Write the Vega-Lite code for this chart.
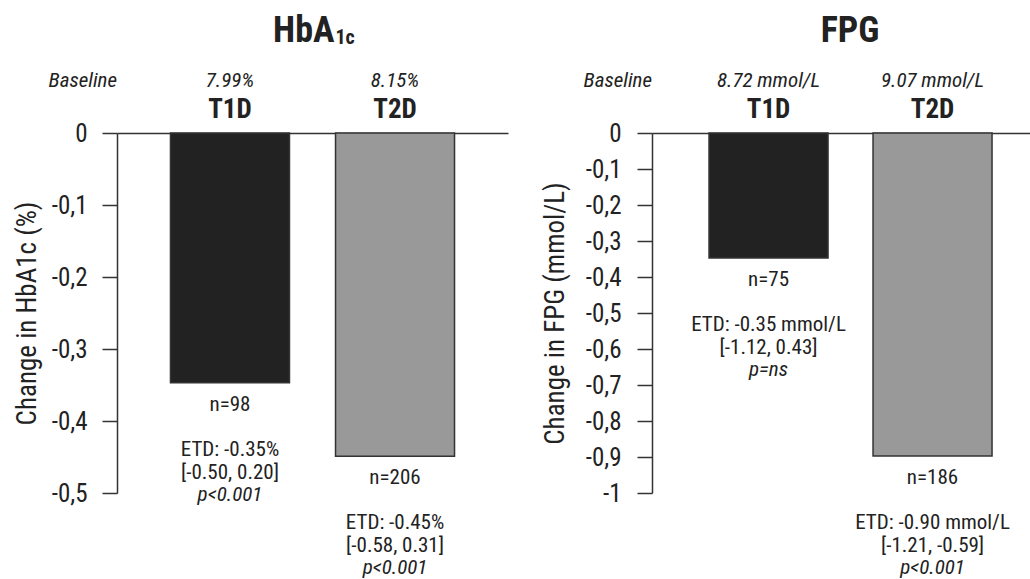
{
  "$schema": "https://vega.github.io/schema/vega-lite/v6.json",
  "background": "white",
  "padding": {"left": 13, "top": 13, "right": 0, "bottom": 0},
  "spacing": 33,
  "data": {
    "values": [
      {"panel": "HbA1c", "title": "HbA", "sub": "1c", "group": "T1D", "value": -0.347, "n": "n=98", "etd": "ETD: -0.35%", "ci": "[-0.50, 0.20]", "p": "p<0.001", "baseline": "7.99%"},
      {"panel": "HbA1c", "title": "HbA", "sub": "1c", "group": "T2D", "value": -0.449, "n": "n=206", "etd": "ETD: -0.45%", "ci": "[-0.58, 0.31]", "p": "p<0.001", "baseline": "8.15%"},
      {"panel": "FPG", "title": "FPG", "sub": "", "group": "T1D", "value": -0.347, "n": "n=75", "etd": "ETD: -0.35 mmol/L", "ci": "[-1.12, 0.43]", "p": "p=ns", "baseline": "8.72 mmol/L"},
      {"panel": "FPG", "title": "FPG", "sub": "", "group": "T2D", "value": -0.897, "n": "n=186", "etd": "ETD: -0.90 mmol/L", "ci": "[-1.21, -0.59]", "p": "p<0.001", "baseline": "9.07 mmol/L"}
    ]
  },
  "config": {
    "font": "'Roboto Condensed', sans-serif",
    "view": {"stroke": null},
    "text": {"color": "#222222", "font": "'Roboto Condensed', sans-serif"},
    "axis": {
      "grid": false,
      "domainColor": "#333333",
      "domainWidth": 1.5,
      "tickColor": "#333333",
      "tickWidth": 1.5,
      "labelColor": "#222222",
      "titleColor": "#222222",
      "labelOverlap": false,
      "labelFont": "'Roboto Condensed', sans-serif",
      "titleFont": "'Roboto Condensed', sans-serif"
    }
  },
  "hconcat": [
    {
      "width": 391,
      "height": 360,
      "transform": [{"filter": "datum.panel == 'HbA1c'"}],
      "encoding": {
        "y": {
          "field": "value", "type": "quantitative",
          "scale": {"domain": [-0.5, 0], "nice": false, "zero": false},
          "axis": {
            "values": [0, -0.1, -0.2, -0.3, -0.4, -0.5],
            "tickSize": 15,
            "labelFontSize": 25,
            "labelPadding": 15,
            "labelOverlap": false,
            "labelExpr": "datum.value == 0 ? '0' : (datum.value == -1 ? '-1' : '-' + replace(format(-datum.value, '.1f'), '.', ','))",
            "title": "Change in HbA1c (%)",
            "titleFontSize": 27,
            "titleFontWeight": "normal",
            "titlePadding": 10
          }
        }
      },
      "layer": [
        {
          "mark": {"type": "bar", "stroke": "#333333", "strokeWidth": 1.5},
          "encoding": {
            "x": {
              "field": "group", "type": "nominal",
              "scale": {"paddingInner": 0.279, "paddingOuter": 0.324},
              "axis": {"orient": "top", "title": null, "labelAngle": 0, "ticks": false, "tickSize": 0, "labelPadding": 16, "labelFontSize": 27, "labelFontWeight": "bold", "labelBaseline": "alphabetic"}
            },
            "color": {"field": "group", "type": "nominal", "scale": {"domain": ["T1D", "T2D"], "range": ["#222222", "#999999"]}, "legend": null}
          }
        },
        {
          "mark": {"type": "text", "fontSize": 21, "baseline": "middle", "dy": 22},
          "encoding": {"x": {"field": "group", "type": "nominal"}, "text": {"field": "n"}}
        },
        {
          "mark": {"type": "text", "fontSize": 21, "baseline": "middle", "dy": 67},
          "encoding": {"x": {"field": "group", "type": "nominal"}, "text": {"field": "etd"}}
        },
        {
          "mark": {"type": "text", "fontSize": 21, "baseline": "middle", "dy": 90},
          "encoding": {"x": {"field": "group", "type": "nominal"}, "text": {"field": "ci"}}
        },
        {
          "mark": {"type": "text", "fontSize": 21, "fontStyle": "italic", "baseline": "middle", "dy": 112},
          "encoding": {"x": {"field": "group", "type": "nominal"}, "text": {"field": "p"}}
        },
        {
          "mark": {"type": "text", "fontSize": 21, "fontStyle": "italic", "baseline": "alphabetic", "dy": -46},
          "encoding": {"x": {"field": "group", "type": "nominal"}, "y": {"datum": 0}, "text": {"field": "baseline"}}
        },
        {
          "transform": [{"filter": "datum.group == 'T1D'"}],
          "mark": {"type": "text", "fontSize": 21, "fontStyle": "italic", "baseline": "alphabetic", "align": "right", "dy": -46},
          "encoding": {"x": {"value": 0}, "y": {"datum": 0}, "text": {"value": "Baseline"}}
        },
        {
          "transform": [{"filter": "datum.group == 'T1D'"}],
          "mark": {"type": "text", "fontSize": 36, "fontWeight": "bold", "baseline": "alphabetic", "align": "right", "dx": 22, "dy": -91},
          "encoding": {"y": {"datum": 0}, "text": {"field": "title"}}
        },
        {
          "transform": [{"filter": "datum.group == 'T1D'"}],
          "mark": {"type": "text", "fontSize": 20, "fontWeight": "bold", "baseline": "alphabetic", "align": "left", "dx": 23, "dy": -89},
          "encoding": {"y": {"datum": 0}, "text": {"field": "sub"}}
        }
      ]
    },
    {
      "width": 380,
      "height": 360,
      "transform": [{"filter": "datum.panel == 'FPG'"}],
      "encoding": {
        "y": {
          "field": "value", "type": "quantitative",
          "scale": {"domain": [-1, 0], "nice": false, "zero": false},
          "axis": {
            "values": [0, -0.1, -0.2, -0.3, -0.4, -0.5, -0.6, -0.7, -0.8, -0.9, -1],
            "tickSize": 15,
            "labelFontSize": 25,
            "labelPadding": 16,
            "labelOverlap": false,
            "labelExpr": "datum.value == 0 ? '0' : (datum.value == -1 ? '-1' : '-' + replace(format(-datum.value, '.1f'), '.', ','))",
            "title": "Change in FPG (mmol/L)",
            "titleFontSize": 27,
            "titleFontWeight": "normal",
            "titlePadding": 16
          }
        }
      },
      "layer": [
        {
          "mark": {"type": "bar", "stroke": "#333333", "strokeWidth": 1.5},
          "encoding": {
            "x": {
              "field": "group", "type": "nominal",
              "scale": {"paddingInner": 0.2744, "paddingOuter": 0.2957, "align": 0.588},
              "axis": {"orient": "top", "title": null, "labelAngle": 0, "ticks": false, "tickSize": 0, "labelPadding": 16, "labelFontSize": 27, "labelFontWeight": "bold", "labelBaseline": "alphabetic"}
            },
            "color": {"field": "group", "type": "nominal", "scale": {"domain": ["T1D", "T2D"], "range": ["#222222", "#999999"]}, "legend": null}
          }
        },
        {
          "mark": {"type": "text", "fontSize": 21, "baseline": "middle", "dy": 22},
          "encoding": {"x": {"field": "group", "type": "nominal"}, "text": {"field": "n"}}
        },
        {
          "mark": {"type": "text", "fontSize": 21, "baseline": "middle", "dy": 67},
          "encoding": {"x": {"field": "group", "type": "nominal"}, "text": {"field": "etd"}}
        },
        {
          "mark": {"type": "text", "fontSize": 21, "baseline": "middle", "dy": 90},
          "encoding": {"x": {"field": "group", "type": "nominal"}, "text": {"field": "ci"}}
        },
        {
          "mark": {"type": "text", "fontSize": 21, "fontStyle": "italic", "baseline": "middle", "dy": 112},
          "encoding": {"x": {"field": "group", "type": "nominal"}, "text": {"field": "p"}}
        },
        {
          "mark": {"type": "text", "fontSize": 21, "fontStyle": "italic", "baseline": "alphabetic", "dy": -46},
          "encoding": {"x": {"field": "group", "type": "nominal"}, "y": {"datum": 0}, "text": {"field": "baseline"}}
        },
        {
          "transform": [{"filter": "datum.group == 'T1D'"}],
          "mark": {"type": "text", "fontSize": 21, "fontStyle": "italic", "baseline": "alphabetic", "align": "right", "dy": -46},
          "encoding": {"x": {"value": 0}, "y": {"datum": 0}, "text": {"value": "Baseline"}}
        },
        {
          "transform": [{"filter": "datum.group == 'T1D'"}],
          "mark": {"type": "text", "fontSize": 36, "fontWeight": "bold", "baseline": "alphabetic", "align": "center", "dx": 8, "dy": -91},
          "encoding": {"y": {"datum": 0}, "text": {"field": "title"}}
        }
      ]
    }
  ]
}
